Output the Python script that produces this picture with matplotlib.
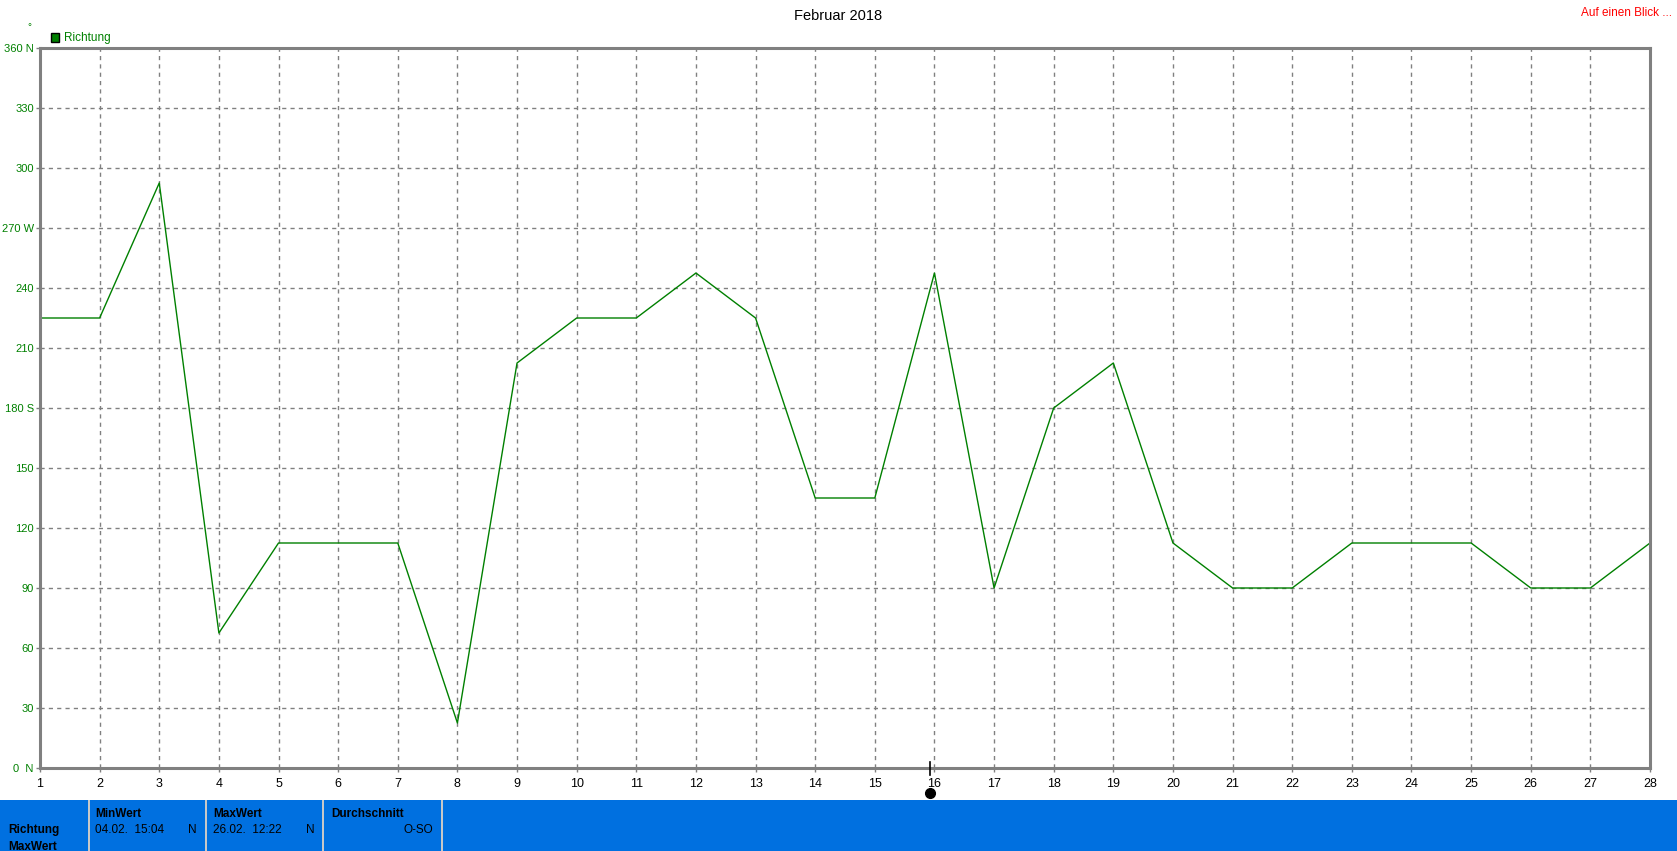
import matplotlib
matplotlib.use('Agg')
from matplotlib import pyplot as plt
from matplotlib.patches import Rectangle
import numpy as np

plt.rcParams['font.family'] = ['Liberation Sans', 'DejaVu Sans']

days = list(range(1, 29))
richtung = [225, 225, 292.5, 67.5, 112.5, 112.5, 112.5, 22.5, 202.5, 225,
            225, 247.5, 225, 135, 135, 247.5, 90, 180, 202.5, 112.5,
            90, 90, 112.5, 112.5, 112.5, 90, 90, 112.5]
yticks = list(range(0, 361, 30))
ylabels = ['0  N', '30', '60', '90', '120', '150', '180 S', '210', '240',
           '270 W', '300', '330', '360 N']

W, H = 1677, 851
fig = plt.figure(figsize=(W / 100, H / 100), dpi=100)

# plot area in pixels
L, T, R, B = 40, 48, 1650, 768
ax = fig.add_axes([L / W, 1 - B / H, (R - L) / W, (B - T) / H])
ax.plot(days, richtung, color='#008000', lw=1.0)
ax.set_xlim(1, 28)
ax.set_ylim(0, 360)
ax.set_xticks(days)
ax.set_xticklabels([str(d) for d in days], fontsize=9, color='black')
ax.set_yticks(yticks)
ax.set_yticklabels(ylabels, fontsize=8, color='#008000')
ax.tick_params(axis='y', length=3, width=1, color='#808080', pad=1.5)
ax.tick_params(axis='x', length=3, width=1, color='#808080', pad=4)
ax.grid(True, color='#808080', ls=(0, (3, 3)), lw=1)
for s in ax.spines.values():
    s.set_color('#808080')
    s.set_linewidth(2.2)

# title and side texts
fig.text(838 / W, 1 - 16 / H, 'Februar 2018', ha='center', va='center', fontsize=10.5)
fig.text(1672 / W, 1 - 13 / H, 'Auf einen Blick ...', ha='right', va='center',
         fontsize=8.5, color='red')
fig.text(29 / W, 1 - 27 / H, '°', ha='center', va='center', fontsize=7, color='#008000')
fig.patches.append(Rectangle((51 / W, 1 - 42 / H), 8 / W, 9 / H, transform=fig.transFigure,
                             facecolor='#008000', edgecolor='black', lw=1))
fig.text(64 / W, 1 - 38 / H, 'Richtung', ha='left', va='center', fontsize=8.5, color='#008000')

# marker at day 16
fig.add_artist(plt.Line2D([930 / W, 930 / W], [1 - 762 / H, 1 - 775 / H],
                          transform=fig.transFigure, color='black', lw=1.2))
fig.add_artist(plt.Line2D([930 / W], [1 - 793 / H], transform=fig.transFigure,
                          marker='o', ms=7, color='black'))

# bottom info panel
fig.patches.append(Rectangle((0, 0), 1, 51 / H, transform=fig.transFigure,
                             facecolor='#0070E0', edgecolor='none'))
for xs in [88, 205, 322, 441]:
    fig.patches.append(Rectangle((xs / W, 0), 2 / W, 51 / H, transform=fig.transFigure,
                                 facecolor='#C8C8C8', edgecolor='none'))

def t(x, y, s, **kw):
    fig.text(x / W, 1 - y / H, s, va='center', fontsize=8.5, **kw)

t(8, 830, 'Richtung', fontweight='bold')
t(8, 847, 'MaxWert', fontweight='bold')
t(95, 814, 'MinWert', fontweight='bold')
t(95, 830, '04.02.  15:04')
t(197, 830, 'N', ha='right')
t(213, 814, 'MaxWert', fontweight='bold')
t(213, 830, '26.02.  12:22')
t(315, 830, 'N', ha='right')
t(331, 814, 'Durchschnitt', fontweight='bold')
t(433, 830, 'O-SO', ha='right')

fig.savefig('out.png', dpi=100)
